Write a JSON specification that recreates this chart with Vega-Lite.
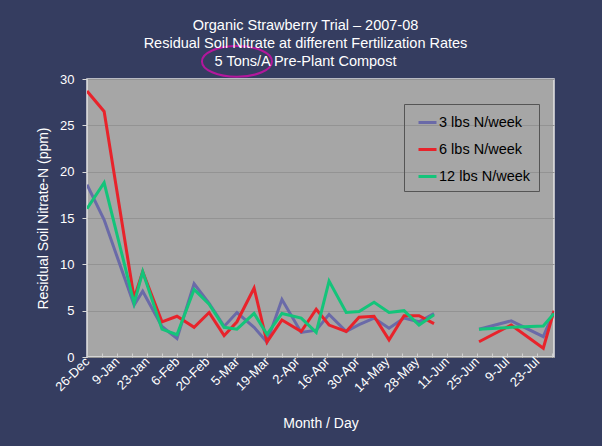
{
  "$schema": "https://vega.github.io/schema/vega-lite/v6.json",
  "autosize": "none",
  "width": 467,
  "height": 278,
  "padding": {"left": 87, "top": 79, "right": 48, "bottom": 89},
  "background": "#353d60",
  "config": {
    "font": "Liberation Sans",
    "view": {"fill": "#a6a6a6", "stroke": "#e4e4e4", "strokeWidth": 1.5},
    "axis": {"labelColor": "#ffffff", "titleColor": "#ffffff", "labelFontSize": 13, "titleFontSize": 14, "titleFontWeight": "normal", "domain": false, "labelOverlap": false}
  },
  "title": {
    "text": ["Organic Strawberry Trial – 2007-08", "Residual Soil Nitrate at different Fertilization Rates", "5 Tons/A Pre-Plant Compost"],
    "color": "#ffffff",
    "fontSize": 14.5,
    "fontWeight": "normal",
    "lineHeight": 18,
    "anchor": "middle",
    "dx": -15,
    "offset": -28
  },
  "datasets": {
    "nitrate": [
      {"date": "2007-12-26", "3 lbs N/week": 18.6, "6 lbs N/week": 28.7, "12 lbs N/week": 16.0, "period": "A"},
      {"date": "2008-01-03", "3 lbs N/week": 14.8, "6 lbs N/week": 26.5, "12 lbs N/week": 18.8, "period": "A"},
      {"date": "2008-01-17", "3 lbs N/week": 5.6, "6 lbs N/week": 6.35, "12 lbs N/week": 5.8, "period": "A"},
      {"date": "2008-01-21", "3 lbs N/week": 7.1, "6 lbs N/week": 9.2, "12 lbs N/week": 9.2, "period": "A"},
      {"date": "2008-01-30", "3 lbs N/week": 3.3, "6 lbs N/week": 3.8, "12 lbs N/week": 3.0, "period": "A"},
      {"date": "2008-02-06", "3 lbs N/week": 2.0, "6 lbs N/week": 4.4, "12 lbs N/week": 2.4, "period": "A"},
      {"date": "2008-02-14", "3 lbs N/week": 7.9, "6 lbs N/week": 3.2, "12 lbs N/week": 7.3, "period": "A"},
      {"date": "2008-02-21", "3 lbs N/week": 5.8, "6 lbs N/week": 4.8, "12 lbs N/week": 5.7, "period": "A"},
      {"date": "2008-02-28", "3 lbs N/week": 3.3, "6 lbs N/week": 2.3, "12 lbs N/week": 3.2, "period": "A"},
      {"date": "2008-03-05", "3 lbs N/week": 4.8, "6 lbs N/week": 3.8, "12 lbs N/week": 3.0, "period": "A"},
      {"date": "2008-03-13", "3 lbs N/week": 3.2, "6 lbs N/week": 7.45, "12 lbs N/week": 4.7, "period": "A"},
      {"date": "2008-03-19", "3 lbs N/week": 1.6, "6 lbs N/week": 1.6, "12 lbs N/week": 2.45, "period": "A"},
      {"date": "2008-03-26", "3 lbs N/week": 6.2, "6 lbs N/week": 4.0, "12 lbs N/week": 4.7, "period": "A"},
      {"date": "2008-04-04", "3 lbs N/week": 2.65, "6 lbs N/week": 2.75, "12 lbs N/week": 4.2, "period": "A"},
      {"date": "2008-04-11", "3 lbs N/week": 2.9, "6 lbs N/week": 5.15, "12 lbs N/week": 2.65, "period": "A"},
      {"date": "2008-04-17", "3 lbs N/week": 4.6, "6 lbs N/week": 3.45, "12 lbs N/week": 8.2, "period": "A"},
      {"date": "2008-04-25", "3 lbs N/week": 2.75, "6 lbs N/week": 2.75, "12 lbs N/week": 4.8, "period": "A"},
      {"date": "2008-05-01", "3 lbs N/week": 3.5, "6 lbs N/week": 4.3, "12 lbs N/week": 4.9, "period": "A"},
      {"date": "2008-05-08", "3 lbs N/week": 4.2, "6 lbs N/week": 4.4, "12 lbs N/week": 5.9, "period": "A"},
      {"date": "2008-05-15", "3 lbs N/week": 3.1, "6 lbs N/week": 1.85, "12 lbs N/week": 4.8, "period": "A"},
      {"date": "2008-05-22", "3 lbs N/week": 4.2, "6 lbs N/week": 4.45, "12 lbs N/week": 5.0, "period": "A"},
      {"date": "2008-05-29", "3 lbs N/week": 3.8, "6 lbs N/week": 4.45, "12 lbs N/week": 3.45, "period": "A"},
      {"date": "2008-06-05", "3 lbs N/week": 4.7, "6 lbs N/week": 3.6, "12 lbs N/week": 4.55, "period": "A"},
      {"date": "2008-06-26", "3 lbs N/week": 3.0, "6 lbs N/week": 1.65, "12 lbs N/week": 3.0, "period": "B"},
      {"date": "2008-07-11", "3 lbs N/week": 3.9, "6 lbs N/week": 3.45, "12 lbs N/week": 3.2, "period": "B"},
      {"date": "2008-07-26", "3 lbs N/week": 2.2, "6 lbs N/week": 0.95, "12 lbs N/week": 3.35, "period": "B"},
      {"date": "2008-07-31", "3 lbs N/week": 4.9, "6 lbs N/week": 5.0, "12 lbs N/week": 4.7, "period": "B"}
    ],
    "circle": [
      {"date": "2008-03-05", "level": 31.9}
    ]
  },
  "layer": [
    {
      "data": {"name": "nitrate"},
      "transform": [
        {"fold": ["3 lbs N/week", "6 lbs N/week", "12 lbs N/week"], "as": ["series", "nitrate"]}
      ],
      "mark": {"type": "line", "strokeWidth": 3, "clip": true},
      "encoding": {
        "x": {
          "field": "date",
          "type": "temporal",
          "scale": {"type": "utc", "domain": [{"year": 2007, "month": 12, "date": 26, "utc": true}, {"year": 2008, "month": 7, "date": 31, "utc": true}]},
          "axis": {
            "title": "Month / Day",
            "tickCount": 60,
            "values": [
              {"year": 2007, "month": 12, "date": 26, "utc": true},
              {"year": 2008, "month": 1, "date": 2, "utc": true},
              {"year": 2008, "month": 1, "date": 9, "utc": true},
              {"year": 2008, "month": 1, "date": 16, "utc": true},
              {"year": 2008, "month": 1, "date": 23, "utc": true},
              {"year": 2008, "month": 1, "date": 30, "utc": true},
              {"year": 2008, "month": 2, "date": 6, "utc": true},
              {"year": 2008, "month": 2, "date": 13, "utc": true},
              {"year": 2008, "month": 2, "date": 20, "utc": true},
              {"year": 2008, "month": 2, "date": 27, "utc": true},
              {"year": 2008, "month": 3, "date": 5, "utc": true},
              {"year": 2008, "month": 3, "date": 12, "utc": true},
              {"year": 2008, "month": 3, "date": 19, "utc": true},
              {"year": 2008, "month": 3, "date": 26, "utc": true},
              {"year": 2008, "month": 4, "date": 2, "utc": true},
              {"year": 2008, "month": 4, "date": 9, "utc": true},
              {"year": 2008, "month": 4, "date": 16, "utc": true},
              {"year": 2008, "month": 4, "date": 23, "utc": true},
              {"year": 2008, "month": 4, "date": 30, "utc": true},
              {"year": 2008, "month": 5, "date": 7, "utc": true},
              {"year": 2008, "month": 5, "date": 14, "utc": true},
              {"year": 2008, "month": 5, "date": 21, "utc": true},
              {"year": 2008, "month": 5, "date": 28, "utc": true},
              {"year": 2008, "month": 6, "date": 4, "utc": true},
              {"year": 2008, "month": 6, "date": 11, "utc": true},
              {"year": 2008, "month": 6, "date": 18, "utc": true},
              {"year": 2008, "month": 6, "date": 25, "utc": true},
              {"year": 2008, "month": 7, "date": 2, "utc": true},
              {"year": 2008, "month": 7, "date": 9, "utc": true},
              {"year": 2008, "month": 7, "date": 16, "utc": true},
              {"year": 2008, "month": 7, "date": 23, "utc": true},
              {"year": 2008, "month": 7, "date": 30, "utc": true}
            ],
            "labelExpr": "round((datum.value - utc(2007, 11, 26)) / 604800000) % 2 == 0 ? utcFormat(datum.value, '%-d-%b') : ''",
            "labelOverlap": false,
            "labelAngle": -45,
            "labelAlign": "right",
            "labelBaseline": "middle",
            "labelPadding": 6,
            "tickSize": -4,
            "tickColor": "#d0d0d0",
            "grid": false,
            "titlePadding": 22
          }
        },
        "y": {
          "field": "nitrate",
          "type": "quantitative",
          "scale": {"domain": [0, 30], "nice": false},
          "axis": {
            "title": "Residual Soil Nitrate-N (ppm)",
            "values": [0, 5, 10, 15, 20, 25, 30],
            "grid": true,
            "gridColor": "#939393",
            "gridWidth": 1,
            "tickColor": "#d8d8d8",
            "tickSize": 5,
            "labelPadding": 8,
            "titlePadding": 9
          }
        },
        "color": {
          "field": "series",
          "type": "nominal",
          "scale": {"domain": ["3 lbs N/week", "6 lbs N/week", "12 lbs N/week"], "range": ["#6a6aa8", "#e8232b", "#14c47a"]},
          "legend": {
            "title": null,
            "orient": "none",
            "legendX": 317,
            "legendY": 25,
            "strokeColor": "#555555",
            "padding": 8,
            "symbolOffset": 5,
            "symbolType": "stroke",
            "symbolSize": 324,
            "symbolStrokeWidth": 3,
            "labelColor": "#000000",
            "labelFontSize": 14.5,
            "labelOffset": 1,
            "rowPadding": 10
          }
        },
        "detail": {"field": "period", "type": "nominal"}
      }
    },
    {
      "data": {"name": "circle"},
      "mark": {
        "type": "point",
        "shape": "M-1,0C-1,-0.243,-0.5523,-0.44,0,-0.44C0.5523,-0.44,1,-0.243,1,0C1,0.243,0.5523,0.44,0,0.44C-0.5523,0.44,-1,0.243,-1,0Z",
        "size": 4900,
        "filled": false,
        "stroke": "#b3179c",
        "strokeWidth": 2,
        "opacity": 1
      },
      "encoding": {
        "x": {"field": "date", "type": "temporal"},
        "y": {"field": "level", "type": "quantitative"}
      }
    }
  ]
}
